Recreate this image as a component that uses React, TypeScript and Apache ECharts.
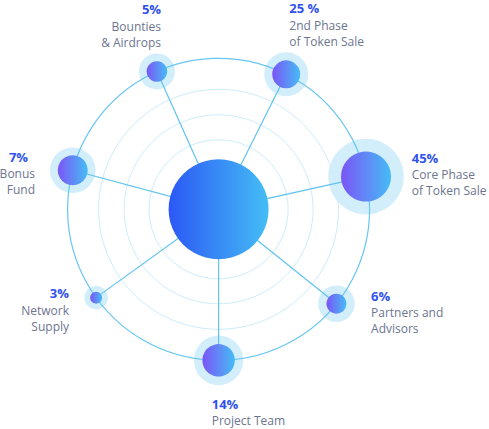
import React, { useEffect, useRef } from "react";
import * as echarts from "echarts";

// ---- data ----
const categories = [
  "Core Phase\nof Token Sale",
  "2nd Phase\nof Token Sale",
  "Bounties\n& Airdrops",
  "Bonus\nFund",
  "Network\nSupply",
  "Project Team",
  "Partners and\nAdvisors",
];
const percentLabels = ["45%", "25 %", "5%", "7%", "3%", "14%", "6%"];
const shares = [45, 25, 5, 7, 3, 14, 6];
// direction of each spoke, degrees counter-clockwise from 3 o'clock
const angles = [12.5, 63.4, 114.1, 165, 215.8, 270, 321.3];
// node diameters
const nodeDiameters = [50, 28, 20.6, 30, 12, 32.4, 20];

// ---- layout / style (not data) ----
const OUTER = 151;
const haloDiameters = [75.6, 44, 36, 45.6, 23.6, 49.4, 36.6];
const ringDiameters = [139, 189, 240];
const labelLayout: { offset: [number, number]; align: "left" | "right"; padRight?: number }[] = [
  { offset: [45.7, -28.1], align: "left" },
  { offset: [3.1, -75.0], align: "left" },
  { offset: [4.1, -71.2], align: "right" },
  { offset: [-37.7, -22.3], align: "right", padRight: 7 },
  { offset: [-27.1, -13.4], align: "right" },
  { offset: [-6.9, 34.2], align: "left" },
  { offset: [34.6, -16.8], align: "left" },
];

const FONT = '"Open Sans", "Noto Sans", sans-serif';

export default function App() {
  const ref = useRef<HTMLDivElement>(null);
  useEffect(() => {
    if (!ref.current) return;
    const chart = echarts.init(ref.current, undefined, { renderer: "svg" });
    const nodeGrad = () =>
      new echarts.graphic.LinearGradient(0, 0, 1, 0, [
        { offset: 0, color: "#7b55f7" },
        { offset: 1, color: "#46bcf5" },
      ]);
    const centerGrad = new echarts.graphic.LinearGradient(0, 0, 1, 0, [
      { offset: 0, color: "#2b58f6" },
      { offset: 1, color: "#45bdf5" },
    ]);

    const spokeSeries = angles.map((a, i) => ({
      type: "line",
      coordinateSystem: "polar",
      name: "spoke" + i,
      data: [
        [0, a],
        [OUTER, a],
      ],
      symbol: "none",
      silent: true,
      z: 3,
      lineStyle: { color: "#5fc3f1", width: 1.2 },
    }));

    chart.setOption({
      animation: false,
      backgroundColor: "#ffffff",
      polar: { center: [218.6, 209.3], radius: OUTER },
      angleAxis: {
        type: "value",
        min: 0,
        max: 360,
        startAngle: 0,
        clockwise: false,
        axisLine: { show: false },
        axisTick: { show: false },
        axisLabel: { show: false },
        splitLine: { show: false },
      },
      radiusAxis: {
        type: "value",
        min: 0,
        max: OUTER,
        axisLine: { show: false },
        axisTick: { show: false },
        axisLabel: { show: false },
        splitLine: { show: false },
      },
      series: [
        {
          type: "scatter",
          coordinateSystem: "polar",
          name: "halo",
          silent: true,
          z: 1,
          data: angles.map((a, i) => ({ value: [OUTER, a], symbolSize: haloDiameters[i] })),
          itemStyle: { color: "#d3eefb", opacity: 1 },
        },
        {
          type: "scatter",
          coordinateSystem: "polar",
          name: "rings",
          silent: true,
          z: 2,
          data: ringDiameters.map((d) => ({ value: [0, 0], symbolSize: d })),
          itemStyle: { color: "rgba(0,0,0,0)", borderColor: "#cdecfb", borderWidth: 1, opacity: 1 },
        },
        {
          type: "scatter",
          coordinateSystem: "polar",
          name: "outerRing",
          silent: true,
          z: 2,
          data: [{ value: [0, 0], symbolSize: OUTER * 2 }],
          itemStyle: { color: "rgba(0,0,0,0)", borderColor: "#67c6f4", borderWidth: 1.2, opacity: 1 },
        },
        ...spokeSeries,
        {
          type: "scatter",
          coordinateSystem: "polar",
          name: "nodes",
          z: 4,
          data: angles.map((a, i) => {
            const L = labelLayout[i];
            const lines = categories[i].split("\n").map((s) => `{t|${s}}`);
            return {
              name: categories[i],
              value: [OUTER, a, shares[i]],
              symbolSize: nodeDiameters[i],
              label: {
                show: true,
                position: "inside",
                offset: L.offset,
                align: L.align,
                verticalAlign: "top",
                formatter: [`{p|${percentLabels[i]}}`, ...lines].join("\n"),
                rich: {
                  p: {
                    fontFamily: FONT,
                    fontSize: 13,
                    fontWeight: "bold",
                    color: "#2f52ef",
                    lineHeight: 18,
                    align: L.align,
                    padding: [0, L.padRight || 0, 0, 0],
                  },
                  t: {
                    fontFamily: FONT,
                    fontSize: 12,
                    color: "#6c7590",
                    lineHeight: 16,
                    align: L.align,
                  },
                },
              },
            };
          }),
          itemStyle: { color: nodeGrad(), opacity: 1 },
        },
        {
          type: "scatter",
          coordinateSystem: "polar",
          name: "center",
          silent: true,
          z: 5,
          data: [{ value: [0, 0], symbolSize: 100 }],
          itemStyle: { color: centerGrad, opacity: 1 },
        },
      ],
    });
    return () => chart.dispose();
  }, []);
  return (
    <div
      ref={ref}
      style={{ position: "fixed", left: 0, top: 0, width: 489, height: 429 }}
    />
  );
}
